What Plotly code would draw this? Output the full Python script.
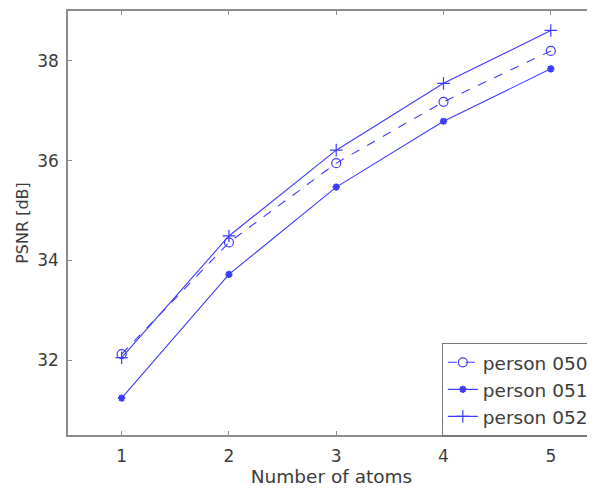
import plotly.graph_objects as go

atoms = [1, 2, 3, 4, 5]
person_050 = [32.12, 34.36, 35.95, 37.18, 38.20]
person_051 = [31.24, 33.72, 35.47, 36.79, 37.84]
person_052 = [32.05, 34.49, 36.21, 37.55, 38.61]
names = ["person 050", "person 051", "person 052"]
x_ticks = [1, 2, 3, 4, 5]
y_ticks = [32, 34, 36, 38]

blue = "rgb(60,60,255)"
fig = go.Figure()
fig.add_trace(go.Scatter(x=atoms, y=person_050, name=names[0], mode="lines+markers",
                         legendgroup="a",
                         line=dict(color=blue, width=1.1, dash="dash"),
                         marker=dict(symbol="circle-open", size=9, color=blue, line=dict(width=1.2))))
fig.add_trace(go.Scatter(x=atoms, y=person_051, name=names[1], mode="lines+markers",
                         legendgroup="b",
                         line=dict(color=blue, width=1.1),
                         marker=dict(symbol="asterisk-open", size=6, color=blue, line=dict(width=2, color=blue))))
fig.add_trace(go.Scatter(x=atoms, y=person_052, name=names[2], mode="lines+markers",
                         legendgroup="c",
                         line=dict(color=blue, width=1.1),
                         marker=dict(symbol="cross-thin-open", size=9, color=blue, line=dict(width=1.2, color=blue))))

axis_color = "rgb(140,140,140)"
fig.update_layout(
    width=587, height=480,
    margin=dict(l=60, r=0, t=3, b=53),
    paper_bgcolor="white", plot_bgcolor="white",
    font=dict(family="DejaVu Sans", color="rgb(60,60,60)", size=17),
    showlegend=True,
    legend=dict(x=0.709, y=0.218, xanchor="left", yanchor="top",
                xref="paper", yref="paper",
                bordercolor="rgb(120,120,120)", borderwidth=1.2, bgcolor="white",
                font=dict(size=18.5, color="rgb(60,60,60)"), tracegroupgap=0,
                itemwidth=30),
)
fig.update_xaxes(range=[0.5, 5.412], tickvals=x_ticks, ticks="inside", ticklen=4,
                 tickcolor=axis_color, showline=True, linecolor=axis_color, linewidth=1.5,
                 mirror="ticks", showgrid=False, zeroline=False, ticklabelstandoff=5,
                 title=dict(text="Number of atoms", font=dict(size=18.5), standoff=0),
                 tickfont=dict(size=17))
fig.update_yaxes(range=[30.5, 39.0], tickvals=y_ticks, ticks="inside", ticklen=4,
                 tickcolor=axis_color, showline=True, linecolor=axis_color, linewidth=1.5,
                 mirror=False, showgrid=False, zeroline=False, ticklabelstandoff=4,
                 title=dict(text="PSNR [dB]", font=dict(size=16), standoff=5),
                 tickfont=dict(size=17))
fig.write_html("out.html")
